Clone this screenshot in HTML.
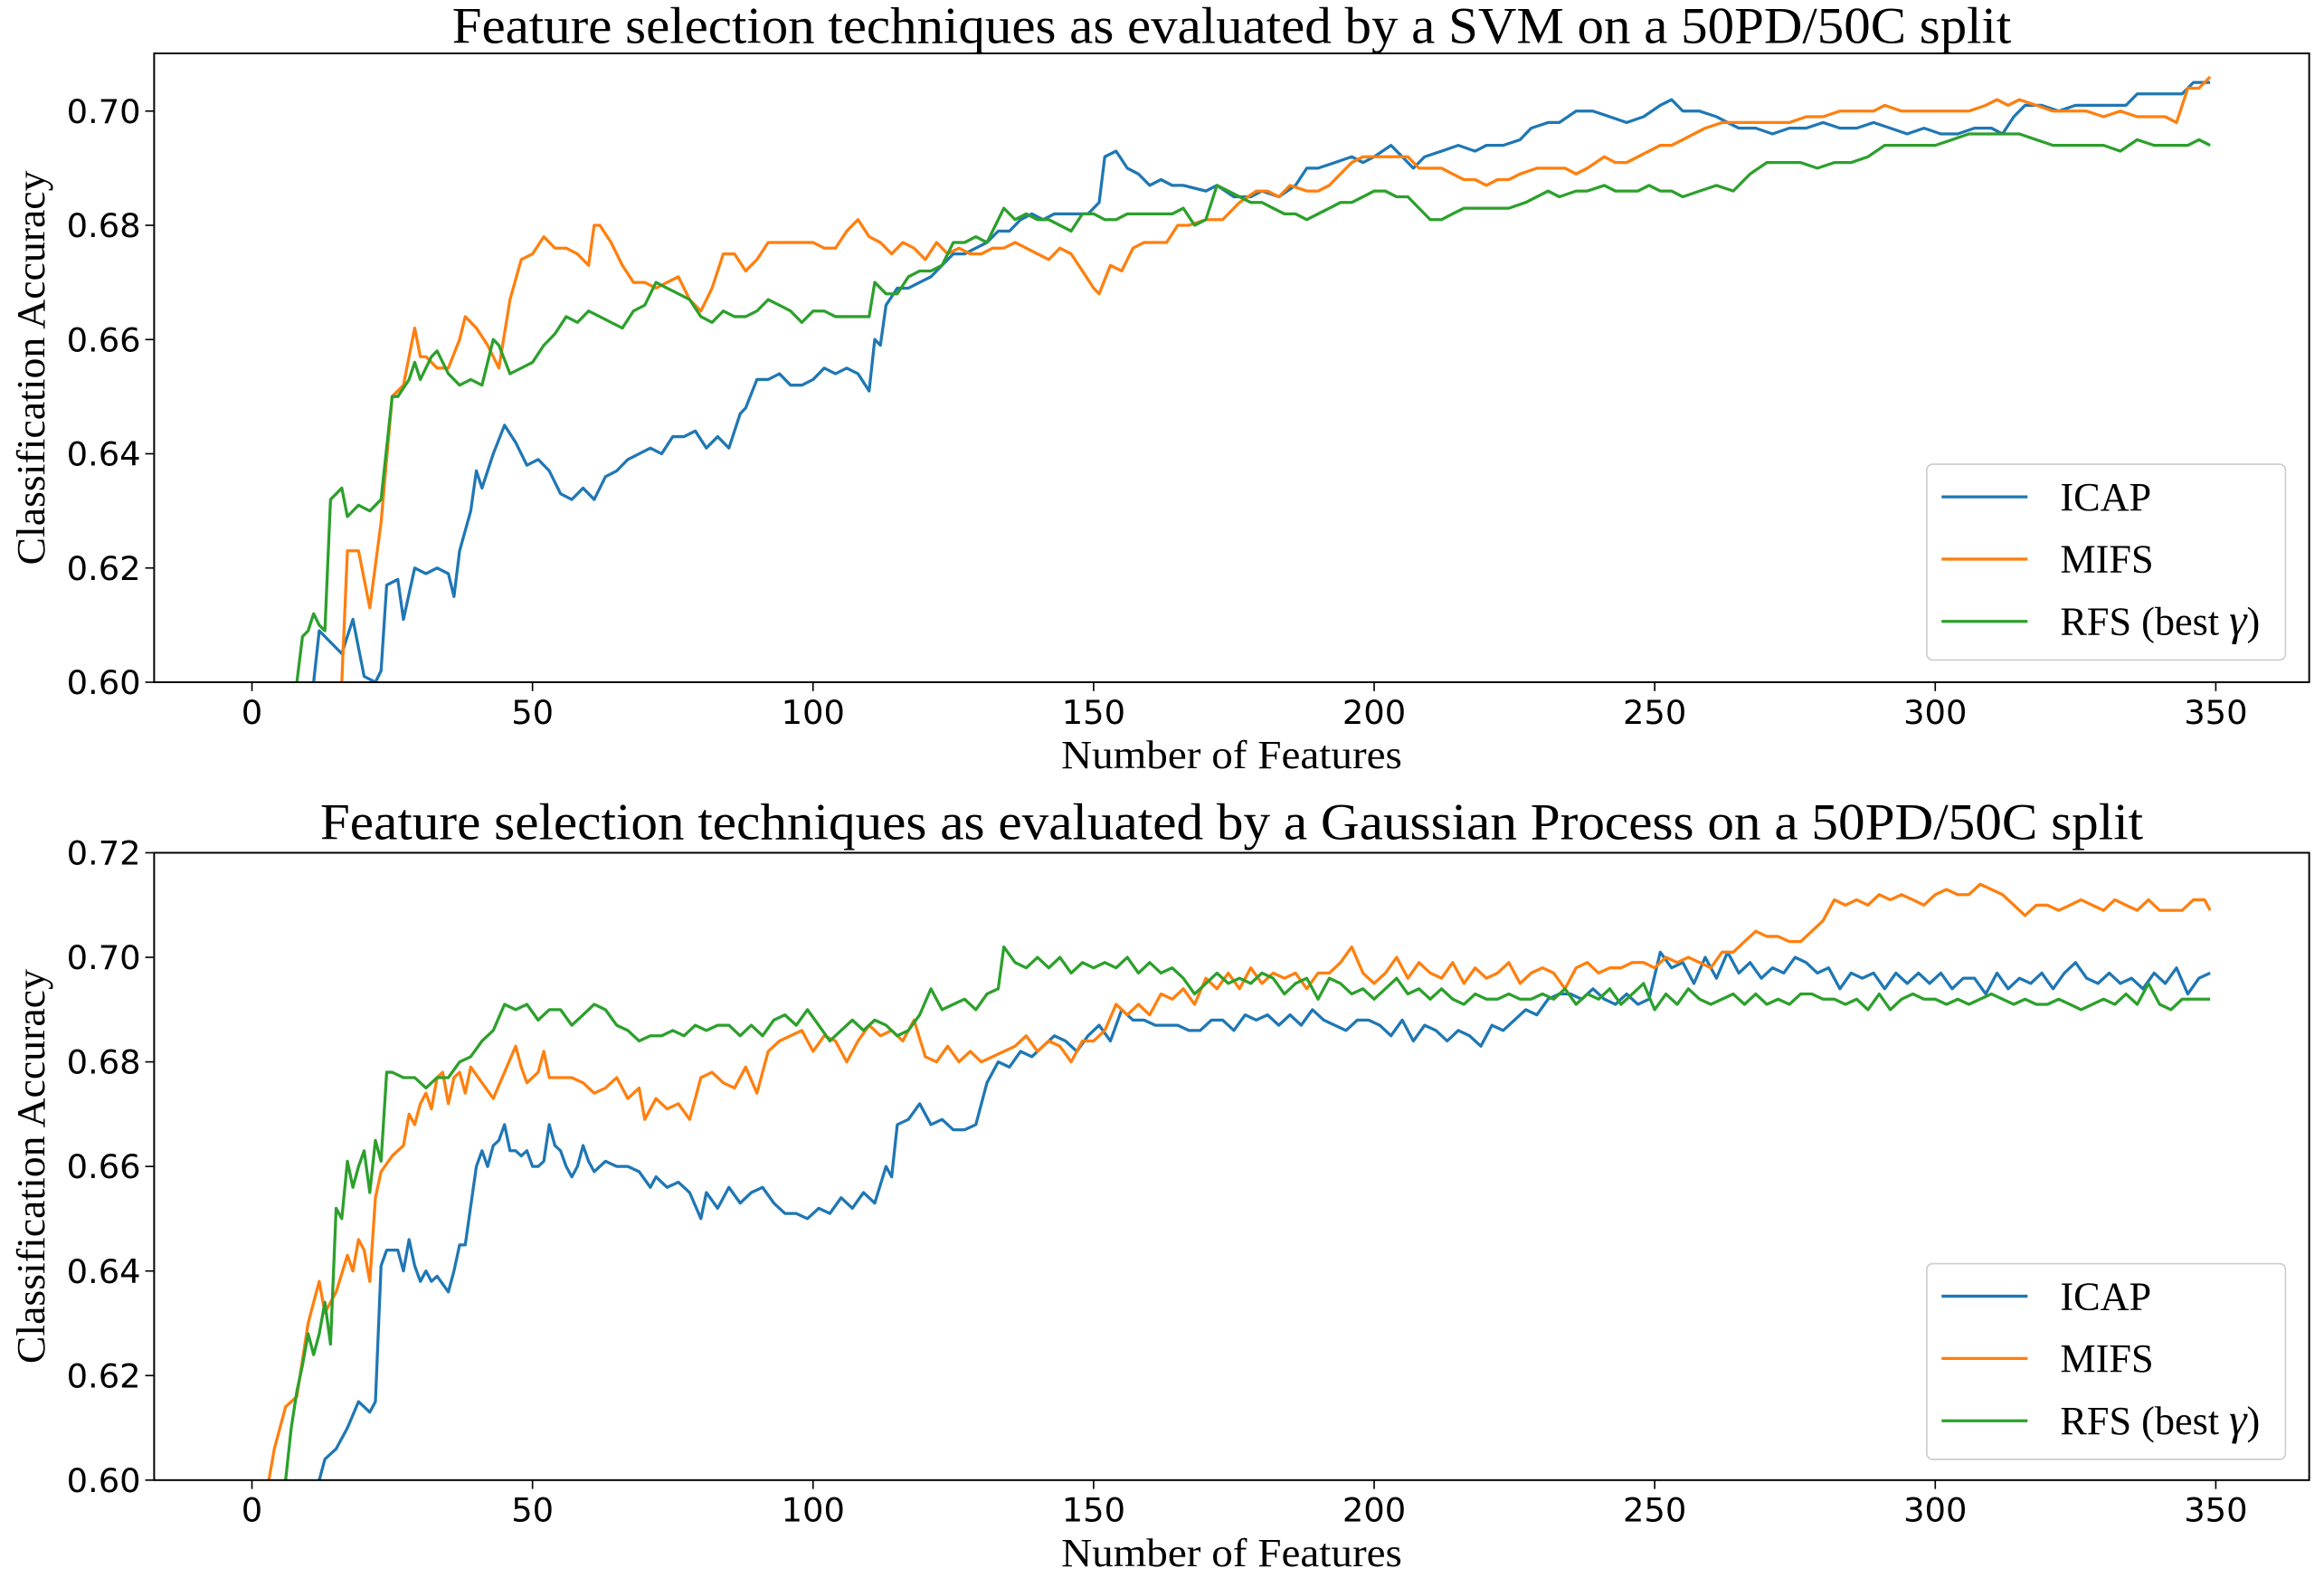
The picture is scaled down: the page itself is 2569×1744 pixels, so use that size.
<!DOCTYPE html>
<html><head><meta charset="utf-8"><style>
html,body{margin:0;padding:0;background:#fff;}
svg{display:block;}
.tk{font-family:"DejaVu Sans","Liberation Sans",sans-serif;font-size:22.5px;fill:#000;}
.sf{font-family:"Liberation Serif","DejaVu Serif",serif;fill:#000;}
</style></head><body>
<svg id="fig" width="2569" height="1744" viewBox="0 0 1568 1064" preserveAspectRatio="none" xmlns="http://www.w3.org/2000/svg">
<defs>
<clipPath id="c1"><rect x="104" y="36" width="1454" height="424"/></clipPath>
<clipPath id="c2"><rect x="104" y="575" width="1454" height="423"/></clipPath>
</defs>
</svg>
<script>
// ---- data: top (SVM) ----
const xTicks=[0,50,100,150,200,250,300,350];
const yTicksTop=[0.60,0.62,0.64,0.66,0.68,0.70];
const yTicksBot=[0.60,0.62,0.64,0.66,0.68,0.70,0.72];
const seriesNames=["ICAP","MIFS","RFS (best γ)"];
const svmICAP=[[11,0.600],[12,0.609],[14,0.607],[16,0.605],[18,0.611],[20,0.601],[22,0.600],[23,0.602],[24,0.617],[26,0.618],[27,0.611],[29,0.620],[31,0.619],[33,0.620],[35,0.619],[36,0.615],[37,0.623],[39,0.630],[40,0.637],[41,0.634],[43,0.640],[45,0.645],[47,0.642],[49,0.638],[51,0.639],[53,0.637],[55,0.633],[57,0.632],[59,0.634],[61,0.632],[63,0.636],[65,0.637],[67,0.639],[69,0.640],[71,0.641],[73,0.640],[75,0.643],[77,0.643],[79,0.644],[81,0.641],[83,0.643],[85,0.641],[87,0.647],[88,0.648],[90,0.653],[92,0.653],[94,0.654],[96,0.652],[98,0.652],[100,0.653],[102,0.655],[104,0.654],[106,0.655],[108,0.654],[110,0.651],[111,0.660],[112,0.659],[113,0.666],[115,0.669],[117,0.669],[119,0.670],[121,0.671],[123,0.673],[125,0.675],[127,0.675],[129,0.676],[131,0.677],[133,0.679],[135,0.679],[137,0.681],[139,0.682],[141,0.681],[143,0.682],[145,0.682],[147,0.682],[149,0.682],[151,0.684],[152,0.692],[154,0.693],[156,0.690],[158,0.689],[160,0.687],[162,0.688],[164,0.687],[166,0.687],[170,0.686],[172,0.687],[175,0.685],[178,0.685],[180,0.686],[183,0.685],[186,0.687],[188,0.690],[190,0.690],[193,0.691],[196,0.692],[198,0.691],[200,0.692],[203,0.694],[205,0.692],[207,0.690],[209,0.692],[212,0.693],[215,0.694],[218,0.693],[220,0.694],[223,0.694],[226,0.695],[228,0.697],[231,0.698],[233,0.698],[236,0.700],[239,0.700],[242,0.699],[245,0.698],[248,0.699],[251,0.701],[253,0.702],[255,0.700],[258,0.700],[261,0.699],[263,0.698],[265,0.697],[268,0.697],[271,0.696],[274,0.697],[277,0.697],[280,0.698],[283,0.697],[286,0.697],[289,0.698],[292,0.697],[295,0.696],[298,0.697],[301,0.696],[304,0.696],[307,0.697],[310,0.697],[312,0.696],[314,0.699],[316,0.701],[319,0.701],[322,0.700],[325,0.701],[328,0.701],[331,0.701],[334,0.701],[336,0.703],[339,0.703],[342,0.703],[344,0.703],[346,0.705],[349,0.705]];
const svmMIFS=[[16,0.600],[17,0.623],[19,0.623],[21,0.613],[23,0.628],[25,0.650],[27,0.652],[29,0.662],[30,0.657],[31,0.657],[33,0.655],[35,0.655],[37,0.660],[38,0.664],[40,0.662],[42,0.659],[44,0.655],[46,0.667],[48,0.674],[50,0.675],[52,0.678],[54,0.676],[56,0.676],[58,0.675],[60,0.673],[61,0.680],[62,0.680],[64,0.677],[66,0.673],[68,0.670],[70,0.670],[72,0.669],[74,0.670],[76,0.671],[78,0.667],[80,0.665],[82,0.669],[84,0.675],[86,0.675],[88,0.672],[90,0.674],[92,0.677],[94,0.677],[96,0.677],[98,0.677],[100,0.677],[102,0.676],[104,0.676],[106,0.679],[108,0.681],[110,0.678],[112,0.677],[114,0.675],[116,0.677],[118,0.676],[120,0.674],[122,0.677],[124,0.675],[126,0.676],[128,0.675],[130,0.675],[132,0.676],[134,0.676],[136,0.677],[138,0.676],[140,0.675],[142,0.674],[144,0.676],[146,0.675],[148,0.672],[150,0.669],[151,0.668],[153,0.673],[155,0.672],[157,0.676],[159,0.677],[161,0.677],[163,0.677],[165,0.680],[167,0.680],[170,0.681],[173,0.681],[176,0.684],[179,0.686],[181,0.686],[183,0.685],[185,0.687],[188,0.686],[190,0.686],[192,0.687],[194,0.689],[196,0.691],[198,0.692],[201,0.692],[204,0.692],[206,0.692],[208,0.690],[210,0.690],[212,0.690],[214,0.689],[216,0.688],[218,0.688],[220,0.687],[222,0.688],[224,0.688],[226,0.689],[229,0.690],[231,0.690],[234,0.690],[236,0.689],[238,0.690],[241,0.692],[243,0.691],[245,0.691],[247,0.692],[249,0.693],[251,0.694],[253,0.694],[255,0.695],[257,0.696],[259,0.697],[262,0.698],[265,0.698],[268,0.698],[271,0.698],[274,0.698],[277,0.699],[280,0.699],[283,0.700],[286,0.700],[289,0.700],[291,0.701],[294,0.700],[297,0.700],[300,0.700],[303,0.700],[306,0.700],[309,0.701],[311,0.702],[313,0.701],[315,0.702],[318,0.701],[321,0.700],[324,0.700],[327,0.700],[330,0.699],[333,0.700],[336,0.699],[339,0.699],[341,0.699],[343,0.698],[345,0.704],[347,0.704],[349,0.706]];
const svmRFS=[[8,0.600],[9,0.608],[10,0.609],[11,0.612],[12,0.610],[13,0.609],[14,0.632],[16,0.634],[17,0.629],[19,0.631],[21,0.630],[23,0.632],[25,0.650],[26,0.650],[28,0.653],[29,0.656],[30,0.653],[32,0.657],[33,0.658],[35,0.654],[37,0.652],[39,0.653],[41,0.652],[43,0.660],[44,0.659],[46,0.654],[48,0.655],[50,0.656],[52,0.659],[54,0.661],[56,0.664],[58,0.663],[60,0.665],[62,0.664],[64,0.663],[66,0.662],[68,0.665],[70,0.666],[72,0.670],[74,0.669],[76,0.668],[78,0.667],[80,0.664],[82,0.663],[84,0.665],[86,0.664],[88,0.664],[90,0.665],[92,0.667],[94,0.666],[96,0.665],[98,0.663],[100,0.665],[102,0.665],[104,0.664],[106,0.664],[108,0.664],[110,0.664],[111,0.670],[113,0.668],[115,0.668],[117,0.671],[119,0.672],[121,0.672],[123,0.673],[125,0.677],[127,0.677],[129,0.678],[131,0.677],[133,0.681],[134,0.683],[136,0.681],[138,0.682],[140,0.681],[142,0.681],[144,0.680],[146,0.679],[148,0.682],[150,0.682],[152,0.681],[154,0.681],[156,0.682],[158,0.682],[160,0.682],[162,0.682],[164,0.682],[166,0.683],[168,0.680],[170,0.681],[172,0.687],[174,0.686],[176,0.685],[178,0.684],[180,0.684],[182,0.683],[184,0.682],[186,0.682],[188,0.681],[190,0.682],[192,0.683],[194,0.684],[196,0.684],[198,0.685],[200,0.686],[202,0.686],[204,0.685],[206,0.685],[208,0.683],[210,0.681],[212,0.681],[214,0.682],[216,0.683],[218,0.683],[221,0.683],[224,0.683],[227,0.684],[229,0.685],[231,0.686],[233,0.685],[236,0.686],[238,0.686],[241,0.687],[243,0.686],[245,0.686],[247,0.686],[249,0.687],[251,0.686],[253,0.686],[255,0.685],[258,0.686],[261,0.687],[264,0.686],[267,0.689],[270,0.691],[273,0.691],[276,0.691],[279,0.690],[282,0.691],[285,0.691],[288,0.692],[291,0.694],[294,0.694],[297,0.694],[300,0.694],[303,0.695],[306,0.696],[309,0.696],[312,0.696],[315,0.696],[318,0.695],[321,0.694],[324,0.694],[327,0.694],[330,0.694],[333,0.693],[336,0.695],[339,0.694],[342,0.694],[345,0.694],[347,0.695],[349,0.694]];
// ---- data: bottom (GP) ----
const gpICAP=[[12,0.600],[13,0.604],[15,0.606],[17,0.610],[19,0.615],[20,0.614],[21,0.613],[22,0.615],[23,0.641],[24,0.644],[25,0.644],[26,0.644],[27,0.640],[28,0.646],[29,0.641],[30,0.638],[31,0.640],[32,0.638],[33,0.639],[35,0.636],[36,0.640],[37,0.645],[38,0.645],[40,0.660],[41,0.663],[42,0.660],[43,0.664],[44,0.665],[45,0.668],[46,0.663],[47,0.663],[48,0.662],[49,0.663],[50,0.660],[51,0.660],[52,0.661],[53,0.668],[54,0.664],[55,0.663],[56,0.660],[57,0.658],[58,0.660],[59,0.664],[60,0.661],[61,0.659],[63,0.661],[65,0.660],[67,0.660],[69,0.659],[71,0.656],[72,0.658],[74,0.656],[76,0.657],[78,0.655],[80,0.650],[81,0.655],[83,0.652],[85,0.656],[87,0.653],[89,0.655],[91,0.656],[93,0.653],[95,0.651],[97,0.651],[99,0.650],[101,0.652],[103,0.651],[105,0.654],[107,0.652],[109,0.655],[111,0.653],[113,0.660],[114,0.658],[115,0.668],[117,0.669],[119,0.672],[121,0.668],[123,0.669],[125,0.667],[127,0.667],[129,0.668],[131,0.676],[133,0.680],[135,0.679],[137,0.682],[139,0.681],[141,0.683],[143,0.685],[145,0.684],[147,0.682],[149,0.685],[151,0.687],[153,0.684],[155,0.690],[157,0.688],[159,0.688],[161,0.687],[163,0.687],[165,0.687],[167,0.686],[169,0.686],[171,0.688],[173,0.688],[175,0.686],[177,0.689],[179,0.688],[181,0.689],[183,0.687],[185,0.689],[187,0.687],[189,0.690],[191,0.688],[193,0.687],[195,0.686],[197,0.688],[199,0.688],[201,0.687],[203,0.685],[205,0.688],[207,0.684],[209,0.687],[211,0.686],[213,0.684],[215,0.686],[217,0.685],[219,0.683],[221,0.687],[223,0.686],[225,0.688],[227,0.690],[229,0.689],[231,0.692],[233,0.693],[235,0.693],[237,0.692],[239,0.694],[241,0.692],[243,0.691],[245,0.693],[247,0.691],[249,0.692],[251,0.701],[253,0.698],[255,0.699],[257,0.695],[259,0.700],[261,0.696],[263,0.701],[265,0.697],[267,0.699],[269,0.696],[271,0.698],[273,0.697],[275,0.700],[277,0.699],[279,0.697],[281,0.698],[283,0.694],[285,0.697],[287,0.696],[289,0.697],[291,0.694],[293,0.697],[295,0.695],[297,0.697],[299,0.695],[301,0.697],[303,0.694],[305,0.696],[307,0.696],[309,0.693],[311,0.697],[313,0.694],[315,0.696],[317,0.695],[319,0.697],[321,0.694],[323,0.697],[325,0.699],[327,0.696],[329,0.695],[331,0.697],[333,0.695],[335,0.696],[337,0.694],[339,0.697],[341,0.695],[343,0.698],[345,0.693],[347,0.696],[349,0.697]];
const gpMIFS=[[3,0.600],[4,0.606],[6,0.614],[8,0.616],[10,0.630],[11,0.634],[12,0.638],[13,0.632],[15,0.636],[17,0.643],[18,0.640],[19,0.646],[20,0.644],[21,0.638],[22,0.654],[23,0.659],[25,0.662],[27,0.664],[28,0.670],[29,0.668],[30,0.672],[31,0.674],[32,0.671],[33,0.677],[34,0.678],[35,0.672],[36,0.677],[37,0.678],[38,0.674],[39,0.679],[41,0.676],[43,0.673],[45,0.678],[47,0.683],[48,0.679],[49,0.676],[51,0.678],[52,0.682],[53,0.677],[55,0.677],[57,0.677],[59,0.676],[61,0.674],[63,0.675],[65,0.677],[67,0.673],[69,0.675],[70,0.669],[72,0.673],[74,0.671],[76,0.672],[78,0.669],[80,0.677],[82,0.678],[84,0.676],[86,0.675],[88,0.679],[90,0.674],[92,0.682],[94,0.684],[96,0.685],[98,0.686],[100,0.682],[102,0.685],[104,0.684],[106,0.680],[108,0.684],[110,0.687],[112,0.685],[114,0.686],[116,0.684],[118,0.688],[120,0.681],[122,0.680],[124,0.683],[126,0.680],[128,0.682],[130,0.680],[132,0.681],[134,0.682],[136,0.683],[138,0.685],[140,0.682],[142,0.684],[144,0.683],[146,0.680],[148,0.684],[150,0.684],[152,0.686],[154,0.691],[156,0.689],[158,0.691],[160,0.689],[162,0.693],[164,0.692],[166,0.694],[168,0.691],[170,0.696],[172,0.694],[174,0.697],[176,0.694],[178,0.698],[180,0.695],[182,0.697],[184,0.696],[186,0.697],[188,0.694],[190,0.697],[192,0.697],[194,0.699],[196,0.702],[198,0.697],[200,0.695],[202,0.697],[204,0.700],[206,0.696],[208,0.699],[210,0.697],[212,0.696],[214,0.699],[216,0.695],[218,0.698],[220,0.696],[222,0.697],[224,0.699],[226,0.695],[228,0.697],[230,0.698],[232,0.697],[234,0.694],[236,0.698],[238,0.699],[240,0.697],[242,0.698],[244,0.698],[246,0.699],[248,0.699],[250,0.698],[252,0.700],[254,0.699],[256,0.700],[258,0.699],[260,0.698],[262,0.701],[264,0.701],[266,0.703],[268,0.705],[270,0.704],[272,0.704],[274,0.703],[276,0.703],[278,0.705],[280,0.707],[282,0.711],[284,0.710],[286,0.711],[288,0.710],[290,0.712],[292,0.711],[294,0.712],[296,0.711],[298,0.710],[300,0.712],[302,0.713],[304,0.712],[306,0.712],[308,0.714],[310,0.713],[312,0.712],[314,0.710],[316,0.708],[318,0.710],[320,0.710],[322,0.709],[324,0.710],[326,0.711],[328,0.710],[330,0.709],[332,0.711],[334,0.710],[336,0.709],[338,0.711],[340,0.709],[342,0.709],[344,0.709],[346,0.711],[348,0.711],[349,0.709]];
const gpRFS=[[6,0.600],[7,0.610],[8,0.617],[9,0.622],[10,0.628],[11,0.624],[12,0.628],[13,0.634],[14,0.626],[15,0.652],[16,0.650],[17,0.661],[18,0.656],[19,0.660],[20,0.663],[21,0.655],[22,0.665],[23,0.661],[24,0.678],[25,0.678],[27,0.677],[29,0.677],[31,0.675],[33,0.677],[35,0.677],[37,0.680],[39,0.681],[41,0.684],[43,0.686],[45,0.691],[47,0.690],[49,0.691],[51,0.688],[53,0.690],[55,0.690],[57,0.687],[59,0.689],[61,0.691],[63,0.690],[65,0.687],[67,0.686],[69,0.684],[71,0.685],[73,0.685],[75,0.686],[77,0.685],[79,0.687],[81,0.686],[83,0.687],[85,0.687],[87,0.685],[89,0.687],[91,0.685],[93,0.688],[95,0.689],[97,0.687],[99,0.690],[101,0.687],[103,0.684],[105,0.686],[107,0.688],[109,0.686],[111,0.688],[113,0.687],[115,0.685],[117,0.686],[119,0.689],[121,0.694],[123,0.690],[125,0.691],[127,0.692],[129,0.690],[131,0.693],[133,0.694],[134,0.702],[136,0.699],[138,0.698],[140,0.700],[142,0.698],[144,0.700],[146,0.697],[148,0.699],[150,0.698],[152,0.699],[154,0.698],[156,0.700],[158,0.697],[160,0.699],[162,0.697],[164,0.698],[166,0.696],[168,0.693],[170,0.695],[172,0.697],[174,0.695],[176,0.696],[178,0.695],[180,0.697],[182,0.696],[184,0.693],[186,0.695],[188,0.696],[190,0.692],[192,0.696],[194,0.695],[196,0.693],[198,0.694],[200,0.692],[202,0.694],[204,0.696],[206,0.693],[208,0.694],[210,0.692],[212,0.694],[214,0.692],[216,0.691],[218,0.693],[220,0.692],[222,0.692],[224,0.693],[226,0.692],[228,0.692],[230,0.693],[232,0.692],[234,0.694],[236,0.691],[238,0.693],[240,0.692],[242,0.694],[244,0.691],[246,0.693],[248,0.695],[250,0.690],[252,0.693],[254,0.691],[256,0.694],[258,0.692],[260,0.691],[262,0.692],[264,0.693],[266,0.691],[268,0.693],[270,0.691],[272,0.692],[274,0.691],[276,0.693],[278,0.693],[280,0.692],[282,0.692],[284,0.691],[286,0.692],[288,0.690],[290,0.693],[292,0.690],[294,0.692],[296,0.693],[298,0.692],[300,0.692],[302,0.691],[304,0.692],[306,0.691],[308,0.692],[310,0.693],[312,0.692],[314,0.691],[316,0.692],[318,0.691],[320,0.691],[322,0.692],[324,0.691],[326,0.690],[328,0.691],[330,0.692],[332,0.691],[334,0.693],[336,0.691],[338,0.695],[340,0.691],[342,0.690],[344,0.692],[346,0.692],[349,0.692]];

const NS="http://www.w3.org/2000/svg";
const svg=document.getElementById('fig');
const colors=["#1f77b4","#ff7f0e","#2ca02c"];
function mk(tag,attrs,parent){const e=document.createElementNS(NS,tag);for(const k in attrs)e.setAttribute(k,attrs[k]);(parent||svg).appendChild(e);return e;}
function xScale(v){return 170+v*(1495-170)/350;}

function panel(cfg){
  const g=mk('g',{});
  
  
  const L=104,R=1558,T=cfg.top,B=cfg.bottom;
  const yS=v=>B-(v-cfg.ymin)/(cfg.ymax-cfg.ymin)*(B-T);
  const t=mk('text',{x:831,y:cfg.titleY,'text-anchor':'middle','class':'sf','font-size':35,textLength:cfg.titleLen,lengthAdjust:'spacingAndGlyphs'},g);
  t.textContent=cfg.title;
  
  
  const sg=mk('g',{'clip-path':'url(#'+cfg.clip+')'},g);
  cfg.series.forEach((s,i)=>{
    const p=mk('polyline',{points:s.map(d=>xScale(d[0]).toFixed(1)+','+yS(d[1]).toFixed(1)).join(' '),fill:'none',stroke:colors[i],'stroke-width':2,'stroke-linejoin':'round'},sg);
    
    
  });
  const fr=mk('rect',{x:L,y:T,width:R-L,height:B-T,fill:'none',stroke:'#000','stroke-width':1.2},g);
  
  
  xTicks.forEach(v=>{
    const x=xScale(v);
    mk('line',{x1:x,x2:x,y1:B,y2:B+6,stroke:'#000','stroke-width':1},g);
    const tx=mk('text',{x:x,y:B+28,'text-anchor':'middle','class':'tk'},g);
    tx.textContent=v;
    
    
  });
  cfg.yTicks.forEach(v=>{
    const y=yS(v);
    mk('line',{x1:L-6,x2:L,y1:y,y2:y,stroke:'#000','stroke-width':1},g);
    const ty=mk('text',{x:L-9,y:y+8,'text-anchor':'end','class':'tk'},g);
    ty.textContent=v.toFixed(2);
    
    
  });
  const xl=mk('text',{x:831,y:B+58,'text-anchor':'middle','class':'sf','font-size':27,textLength:230,lengthAdjust:'spacingAndGlyphs'},g);
  xl.textContent='Number of Features';
  
  
  const cy=(T+B)/2;
  const yl=mk('text',{x:0,y:0,'text-anchor':'middle','class':'sf','font-size':27,transform:'translate(30,'+cy+') rotate(-90)',textLength:266,lengthAdjust:'spacingAndGlyphs'},g);
  yl.textContent='Classification Accuracy';
  
  
  const lg=mk('g',{},g);
  
  
  const ly=cfg.legendY;
  mk('rect',{x:1300,y:ly,width:242,height:132,rx:4,fill:'#fff',stroke:'#ccc','stroke-width':1},lg);
  seriesNames.forEach((n,i)=>{
    const yy=ly+22+i*42;
    const e=mk('g',{},lg);
    
    
    mk('line',{x1:1310,x2:1368,y1:yy,y2:yy,stroke:colors[i],'stroke-width':2},e);
    const tt=mk('text',{x:1390,y:yy+9,'class':'sf','font-size':27},e);
    if(i===2){tt.textContent='RFS (best ';const ts=mk('tspan',{'font-style':'italic','font-size':30},tt);ts.textContent='γ';tt.appendChild(document.createTextNode(')'));}
    else tt.textContent=n;
  });
}
panel({name:'svm-chart',title:'Feature selection techniques as evaluated by a SVM on a 50PD/50C split',titleLen:1052,titleY:29,top:36,bottom:460,ymin:0.60,ymax:0.7101,yTicks:yTicksTop,clip:'c1',legendY:313,series:[svmICAP,svmMIFS,svmRFS]});
panel({name:'gp-chart',title:'Feature selection techniques as evaluated by a Gaussian Process on a 50PD/50C split',titleLen:1230,titleY:566,top:575,bottom:998,ymin:0.60,ymax:0.72,yTicks:yTicksBot,clip:'c2',legendY:852,series:[gpICAP,gpMIFS,gpRFS]});
</script>
</body></html>
